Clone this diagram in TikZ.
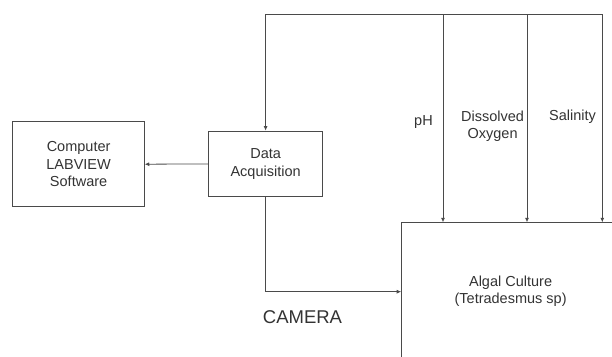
\documentclass[tikz,border=0pt]{standalone}
\usepackage{fontspec}
\setmainfont{Liberation Sans}
\usetikzlibrary{arrows.meta}
\definecolor{wireline}{HTML}{4A4A4A}
\definecolor{textgray}{HTML}{333333}
\tikzset{
  block/.style={rectangle, draw=wireline, line width=0.8pt, align=center, inner sep=0pt, text=textgray, font=\fontsize{14.5}{17.5}\selectfont},
  lbl/.style={align=center, inner sep=0pt, text=textgray, font=\fontsize{14.5}{17.5}\selectfont},
  flow/.style={-{Latex[length=4.5pt,width=4pt]}, line width=0.8pt, draw=wireline},
  wire/.style={line width=0.8pt, draw=wireline}
}
\begin{document}
\begin{tikzpicture}[x=1pt,y=-1pt]
\clip (0,0) rectangle (612,356);

\node[block, minimum width=131.5pt, minimum height=85pt] (comp) at (78.6,164.2) {Computer\\LABVIEW\\Software};
\node[block, minimum width=113.6pt, minimum height=65.7pt] (daq) at (265.6,163.9) {Data\\Acquisition};
\node[block, minimum width=218.8pt, minimum height=137.2pt] (algal) at (510.6,291.3) {Algal Culture\\(Tetradesmus sp)};

\coordinate (busl) at (265.6,14.3);
\coordinate (busr) at (602.3,14.3);
\coordinate (camin) at (401.2,291.7);

\node[lbl] (ph) at (423.5,121.7) {pH};
\node[lbl] (dox) at (492.6,126) {Dissolved\\Oxygen};
\node[lbl] (sal) at (572.6,116.7) {Salinity};
\node[lbl, font=\fontsize{18.5}{22}\selectfont] (cam) at (302.5,316.7) {CAMERA};

% sensor bus
\draw[wire] (busl) -- (busr);
\draw[flow] (busl) -- (daq.north);
\foreach \x in {443,527,602.3} {
  \draw[flow] (busl -| \x,0) -- (algal.north -| \x,0);
}

\draw[flow] (daq.west) -- (comp.east);
\draw[flow] (daq.south) |- (camin);

\end{tikzpicture}
\end{document}
